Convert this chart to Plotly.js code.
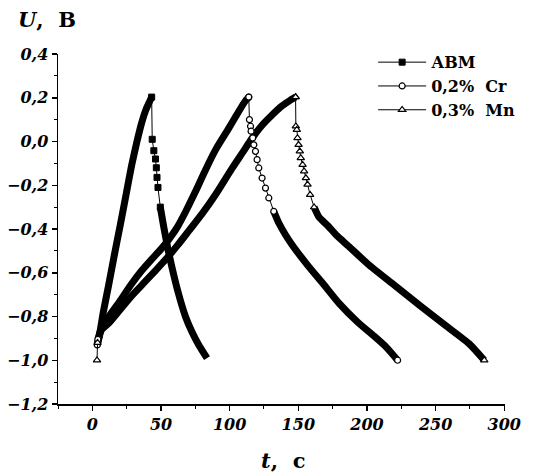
<!DOCTYPE html>
<html>
<head>
<meta charset="utf-8">
<script src="https://cdn.plot.ly/plotly-3.0.1.min.js"></script>
<style>html,body{margin:0;padding:0;background:#fff;}#chart{width:547px;height:474px;}</style>
</head>
<body>
<div id="chart"></div>
<script>
// ---- data (t in s, U in V) ----
const seriesNames = ['АВМ', '0,2%\u00a0 Cr', '0,3%\u00a0 Mn'];

const abmRiseT = [3.5, 4.6, 8, 11.9, 16, 20.4, 24.5, 28.6, 32.5, 35.9, 39, 41.5, 43.2];
const abmRiseU = [-0.93, -0.905, -0.78, -0.656, -0.52, -0.38, -0.245, -0.11, 0.0, 0.085, 0.145, 0.18, 0.203];
const abmFallT = [43.2, 43.6, 44.8, 46, 46.6, 47.1, 47.8, 49.5, 52, 55, 57.8, 62.5, 67.8, 72.5, 77.5, 83.5];
const abmFallU = [0.203, 0.01, -0.042, -0.08, -0.12, -0.164, -0.21, -0.30, -0.39, -0.49, -0.57, -0.69, -0.80, -0.87, -0.93, -0.99];

const crRiseT = [3.6, 4, 6.8, 12, 20, 28, 36, 43, 50, 56, 62, 68, 75, 82.4, 90, 99.3, 104.5, 108.8, 112, 113.9];
const crRiseU = [-0.93, -0.905, -0.85, -0.80, -0.73, -0.656, -0.59, -0.54, -0.492, -0.445, -0.39, -0.32, -0.23, -0.13, -0.035, 0.06, 0.115, 0.16, 0.19, 0.203];
const crFallT = [113.9, 114.4, 115.2, 115.6, 116.8, 117.6, 118.8, 120, 121.2, 123.6, 126.1, 128.5, 132.1, 136, 140.5, 145.8, 156.7, 168.8, 179.7, 193.1, 205.2, 214, 222.3];
const crFallU = [0.203, 0.10, 0.07, 0.047, 0.016, -0.015, -0.045, -0.083, -0.121, -0.167, -0.213, -0.258, -0.319, -0.375, -0.425, -0.475, -0.565, -0.656, -0.74, -0.825, -0.89, -0.94, -1.0];

const mnRiseT = [3.4, 3.8, 6.8, 12, 20, 28, 37, 46, 54, 62, 70.2, 80, 90, 101.5, 110, 116, 123, 130.7, 138, 144, 148];
const mnRiseU = [-1.0, -0.92, -0.86, -0.83, -0.77, -0.71, -0.65, -0.59, -0.535, -0.475, -0.409, -0.33, -0.24, -0.125, -0.045, 0.012, 0.07, 0.12, 0.162, 0.188, 0.203];
const mnFallT = [148, 148.2, 148.9, 149.4, 150.2, 151.1, 151.8, 153.1, 154.2, 155.5, 156.7, 158.6, 161.5, 165, 171.5, 178, 185.9, 201.6, 219.8, 238, 256.8, 274.5, 285.4];
const mnFallU = [0.203, 0.07, 0.054, 0.016, -0.015, -0.045, -0.075, -0.106, -0.136, -0.167, -0.197, -0.243, -0.30, -0.345, -0.385, -0.43, -0.475, -0.565, -0.656, -0.747, -0.839, -0.925, -1.0];

const xTickVals = [0, 50, 100, 150, 200, 250, 300];
const yTickVals = [-1.2, -1.0, -0.8, -0.6, -0.4, -0.2, 0.0, 0.2, 0.4];

// ---- styles ----
const BLACK = '#000';
const markerStyles = [
  {symbol: 'square', size: 6, color: BLACK, line: {color: BLACK, width: 1}},
  {symbol: 'circle', size: 6, color: '#fff', line: {color: BLACK, width: 1.2}},
  {symbol: 'triangle-up', size: 6.5, color: '#fff', line: {color: BLACK, width: 1.2}}
];
const riseDense = [0, 1, 1];
const fallDense = [7, 12, 12];
const endMarker = [false, true, true];

const series = [
  [abmRiseT, abmRiseU, abmFallT, abmFallU],
  [crRiseT, crRiseU, crFallT, crFallU],
  [mnRiseT, mnRiseU, mnFallT, mnFallU]
];

const thick = [], thin = [];
series.forEach((s, i) => {
  const [rt, ru, ft, fu] = s;
  const lineThick = {color: BLACK, width: 7, shape: 'spline', smoothing: 0.6};
  thick.push({x: rt.slice(riseDense[i]), y: ru.slice(riseDense[i]), mode: 'lines', line: lineThick, showlegend: false, hoverinfo: 'skip'});
  thick.push({x: ft.slice(fallDense[i]), y: fu.slice(fallDense[i]), mode: 'lines', line: lineThick, showlegend: false, hoverinfo: 'skip'});
  if (riseDense[i] > 0) {
    thin.push({x: rt.slice(0, riseDense[i] + 1), y: ru.slice(0, riseDense[i] + 1), mode: 'lines+markers',
      line: {color: BLACK, width: 1}, marker: markerStyles[i], showlegend: false, hoverinfo: 'skip'});
  }
  thin.push({x: ft.slice(0, fallDense[i] + 1), y: fu.slice(0, fallDense[i] + 1), mode: 'lines+markers',
    line: {color: BLACK, width: 1}, marker: markerStyles[i], showlegend: false, hoverinfo: 'skip'});
  if (endMarker[i]) {
    thin.push({x: [rt[rt.length - 1], ft[ft.length - 1]], y: [ru[ru.length - 1], fu[fu.length - 1]], mode: 'markers',
      marker: markerStyles[i], showlegend: false, hoverinfo: 'skip'});
  }
});

const legendTraces = seriesNames.map((n, i) => ({
  x: [null], y: [null], mode: 'lines+markers', name: n,
  line: {color: BLACK, width: 1}, marker: markerStyles[i]
}));

const tickFont = {family: 'DejaVu Serif', size: 16, color: BLACK};
const fmt = v => '<b><i>' + (v < 0 ? '\u2212' : '') + Math.abs(v).toFixed(1).replace('.', ',') + '</i></b>';

const layout = {
  width: 547, height: 474,
  margin: {l: 58, r: 42, t: 54, b: 70},
  paper_bgcolor: '#fff', plot_bgcolor: '#fff',
  showlegend: true,
  legend: {
    x: 0.705, y: 1.025, xanchor: 'left', yanchor: 'top',
    font: {family: 'DejaVu Serif', size: 16, color: BLACK, weight: 'bold'},
    bgcolor: 'rgba(0,0,0,0)', borderwidth: 0, itemwidth: 48, tracegroupgap: 0
  },
  xaxis: {
    range: [-25, 300.5], showgrid: false, zeroline: false,
    showline: true, linecolor: BLACK, linewidth: 1.5,
    ticks: 'outside', ticklen: 5, tickwidth: 1.5, tickcolor: BLACK,
    tickmode: 'array', tickvals: xTickVals, ticktext: xTickVals.map(v => '<b><i>' + v + '</i></b>'),
    minor: {dtick: 25, tick0: 0, ticks: 'outside', ticklen: 3, tickwidth: 1, tickcolor: BLACK, showgrid: false},
    tickfont: tickFont
  },
  yaxis: {
    range: [-1.2, 0.4], showgrid: false, zeroline: false,
    showline: true, linecolor: BLACK, linewidth: 1.5,
    ticks: 'outside', ticklen: 5, tickwidth: 1.5, tickcolor: BLACK,
    tickmode: 'array', tickvals: yTickVals, ticktext: yTickVals.map(fmt),
    minor: {dtick: 0.1, tick0: 0, ticks: 'outside', ticklen: 3, tickwidth: 1, tickcolor: BLACK, showgrid: false},
    tickfont: tickFont
  },
  annotations: [
    {xref: 'paper', yref: 'paper', x: -0.095, y: 1.14, xanchor: 'left', yanchor: 'top', showarrow: false,
     text: '<b><i>U</i>,\u00a0 В</b>', font: {family: 'DejaVu Serif', size: 21, color: BLACK}},
    {xref: 'paper', yref: 'paper', x: 0.503, y: -0.16, xanchor: 'center', yanchor: 'middle', showarrow: false,
     text: '<b><i>t</i>,\u00a0 с</b>', font: {family: 'DejaVu Serif', size: 21, color: BLACK}}
  ]
};

Plotly.newPlot('chart', thick.concat(thin).concat(legendTraces), layout, {staticPlot: true, displayModeBar: false});
</script>
</body>
</html>
